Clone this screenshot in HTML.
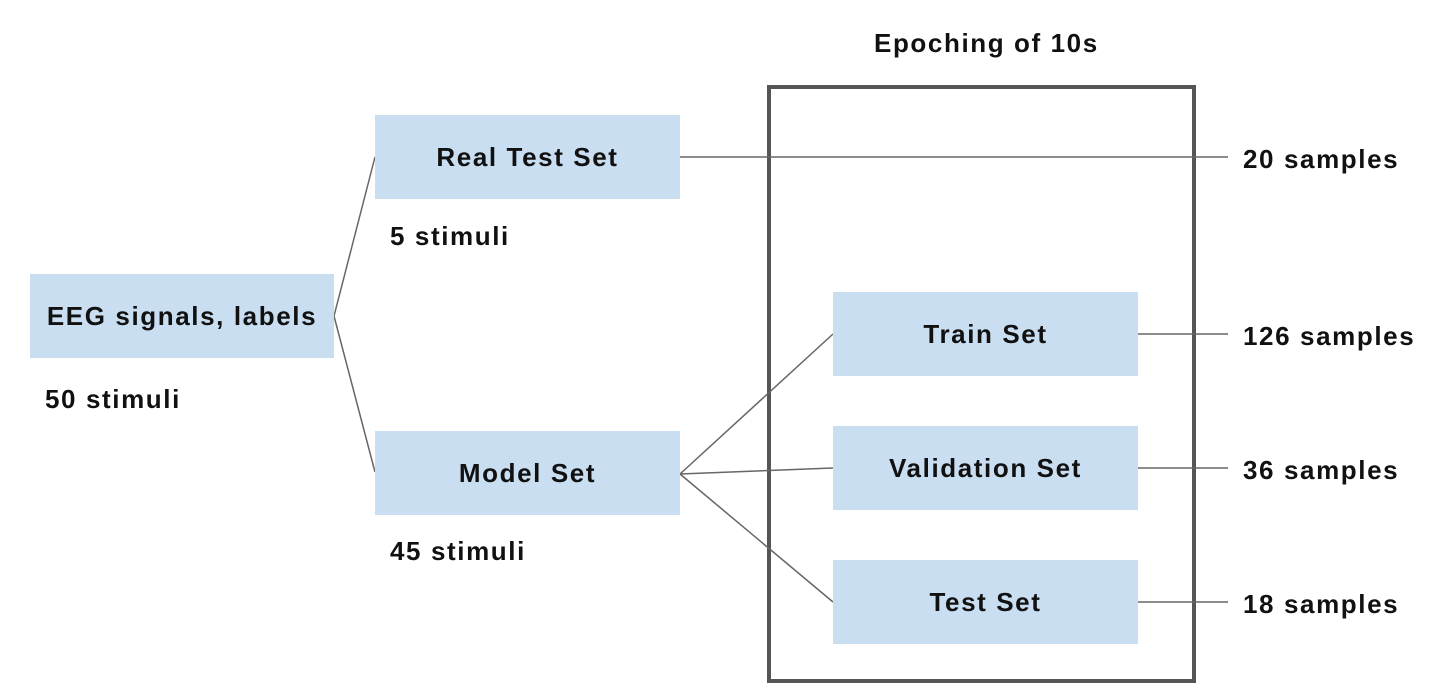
<!DOCTYPE html>
<html><head><style>
body{margin:0;width:1443px;height:685px;background:#fff;position:relative;overflow:hidden;font-family:"Liberation Sans",sans-serif;font-weight:bold;color:#111}
.b{position:absolute;background:#c9dff1;display:flex;align-items:center;justify-content:center;font-size:26px;letter-spacing:1.6px}
.t{position:absolute;font-size:26px;letter-spacing:1.6px;white-space:nowrap}
</style></head><body>
<svg width="1443" height="685" style="position:absolute;left:0;top:0">
<rect x="769" y="87" width="425" height="594" fill="none" stroke="#555" stroke-width="4"/>
<g stroke="#666" stroke-width="1.5" fill="none">
<line x1="334" y1="316" x2="375" y2="157"/>
<line x1="334" y1="316" x2="375" y2="472"/>
<line x1="680" y1="157" x2="1228" y2="157"/>
<line x1="680" y1="474" x2="833" y2="334"/>
<line x1="680" y1="474" x2="833" y2="468"/>
<line x1="680" y1="474" x2="833" y2="602"/>
<line x1="1138" y1="334" x2="1228" y2="334"/>
<line x1="1138" y1="468" x2="1228" y2="468"/>
<line x1="1138" y1="602" x2="1228" y2="602"/>
</g></svg>
<div class="b" style="left:30px;top:274px;width:304px;height:84px">EEG signals, labels</div>
<div class="b" style="left:375px;top:115px;width:305px;height:84px">Real Test Set</div>
<div class="b" style="left:375px;top:431px;width:305px;height:84px">Model Set</div>
<div class="b" style="left:833px;top:292px;width:305px;height:84px">Train Set</div>
<div class="b" style="left:833px;top:426px;width:305px;height:84px">Validation Set</div>
<div class="b" style="left:833px;top:560px;width:305px;height:84px">Test Set</div>
<div class="t" style="left:45px;top:384px">50 stimuli</div>
<div class="t" style="left:390px;top:221px">5 stimuli</div>
<div class="t" style="left:390px;top:536px">45 stimuli</div>
<div class="t" style="left:874px;top:28px">Epoching of 10s</div>
<div class="t" style="left:1243px;top:144px">20 samples</div>
<div class="t" style="left:1243px;top:321px">126 samples</div>
<div class="t" style="left:1243px;top:455px">36 samples</div>
<div class="t" style="left:1243px;top:589px">18 samples</div>
</body></html>
